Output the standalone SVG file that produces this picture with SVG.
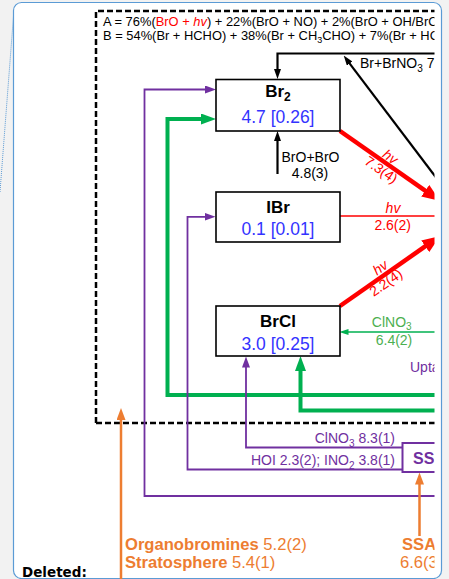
<svg xmlns="http://www.w3.org/2000/svg" width="449" height="579" viewBox="0 0 449 579">
<defs>
<style>
text{font-family:"Liberation Sans",Arial,sans-serif;}
.box{fill:#fff;stroke:#000;stroke-width:1.6;}
.ttl{font-weight:bold;font-size:17px;text-anchor:middle;fill:#000;}
.num{font-size:17.5px;text-anchor:middle;fill:#3333ff;}
.blk{fill:none;stroke:#000;stroke-width:2.2;}
.red{fill:none;stroke:#ff0000;}
.grn{fill:none;stroke:#00b050;}
.pur{fill:none;stroke:#7030a0;stroke-width:1.8;}
.org{fill:none;stroke:#ed7d31;stroke-width:2.5;}
.lbl{font-size:14px;}
.rl{font-size:14px;fill:#ff0000;text-anchor:middle;}
.pl{font-size:14px;fill:#7030a0;}
.ol{font-size:16.6px;fill:#ed7d31;}
</style>
<clipPath id="clip"><rect x="0" y="0" width="434.5" height="579"/></clipPath>
<marker id="mB" markerWidth="10" markerHeight="7" refX="5" refY="3.5" orient="auto" markerUnits="userSpaceOnUse"><path d="M0,0 L10,3.5 L0,7 z" fill="#000"/></marker>
<marker id="mP" markerWidth="11" markerHeight="8" refX="5" refY="4" orient="auto" markerUnits="userSpaceOnUse"><path d="M0,0 L11,4 L0,8 z" fill="#7030a0"/></marker>
<marker id="mG" markerWidth="15" markerHeight="11" refX="7" refY="5.5" orient="auto" markerUnits="userSpaceOnUse"><path d="M0,0 L15,5.5 L0,11 z" fill="#00b050"/></marker>
<marker id="mg" markerWidth="9" markerHeight="6" refX="4" refY="3" orient="auto" markerUnits="userSpaceOnUse"><path d="M0,0 L9,3 L0,6 z" fill="#00b050"/></marker>
<marker id="mR" markerWidth="18" markerHeight="14" refX="9" refY="7" orient="auto" markerUnits="userSpaceOnUse"><path d="M0,0 L18,7 L0,14 z" fill="#ff0000"/></marker>
<marker id="mO" markerWidth="12" markerHeight="9" refX="6" refY="4.5" orient="auto" markerUnits="userSpaceOnUse"><path d="M0,0 L12,4.5 L0,9 z" fill="#ed7d31"/></marker>
</defs>
<rect x="0" y="0" width="449" height="579" fill="#f2f2f2"/>
<path d="M0,192 L13.5,16" fill="none" stroke="#5b9bd5" stroke-width="1" stroke-dasharray="1,1"/>
<rect x="13.5" y="2.5" width="428" height="576" rx="8" fill="#fff" stroke="#5b9bd5" stroke-width="1.2"/>

<g clip-path="url(#clip)">
<g id="frame">
<path d="M96,423 V11 H500 M96,423 H500" fill="none" stroke="#000" stroke-width="2.5" stroke-dasharray="6,3"/>
<text x="103" y="26" style="font-size:12.9px">A = 76%(<tspan fill="#ff0000">BrO + </tspan><tspan fill="#ff0000" font-style="italic">hv</tspan>) + 22%(BrO + NO) + 2%(BrO + OH/BrO</text>
<text x="103" y="40" style="font-size:12.9px">B = 54%(Br + HCHO) + 38%(Br + CH<tspan font-size="9" dy="3">3</tspan><tspan dy="-3">CHO) + 7%(Br + HC</tspan></text>
</g>

<g id="connectors">
<path class="blk" d="M440,53.5 H277.5 V74" marker-end="url(#mB)"/>
<path class="blk" d="M277.5,174 V136" marker-end="url(#mB)"/>
<path class="blk" d="M440,182.7 L346.7,59.6" marker-end="url(#mB)"/>
<path class="red" stroke-width="4.5" d="M340,131 L432.6,195.8" marker-end="url(#mR)"/>
<path class="red" stroke-width="1.6" d="M340,216 H440"/>
<path class="red" stroke-width="4.5" d="M340,306 L432.6,241.2" marker-end="url(#mR)"/>
<path class="grn" stroke-width="1.6" d="M440,332 H344.5" marker-end="url(#mg)"/>
<path class="grn" stroke-width="4" d="M440,395 H167.5 V119 H208" marker-end="url(#mG)"/>
<path class="grn" stroke-width="4" d="M440,410.5 H300.5 V364" marker-end="url(#mG)"/>
<path class="pur" d="M440,496 H144.5 V89.5 H210" marker-end="url(#mP)"/>
<path class="pur" d="M402.5,469.5 H187.5 V216.8 H209.5" marker-end="url(#mP)"/>
<path class="pur" d="M402.5,447.5 H246 V362.5" marker-end="url(#mP)"/>
<path class="org" d="M121,579 V414" marker-end="url(#mO)"/>
<path class="org" d="M419.5,536 V478.5" marker-end="url(#mO)"/>
</g>

<g id="labels">
<text class="lbl" x="360" y="68">Br+BrNO<tspan font-size="10" dy="3.5">3</tspan><tspan dy="-3.5"> 7</tspan></text>
<text class="lbl" x="310.5" y="162" text-anchor="middle">BrO+BrO</text>
<text class="lbl" x="310" y="178" text-anchor="middle">4.8(3)</text>
<g transform="translate(340,131) rotate(35)">
<text class="rl" x="56" y="-3" font-style="italic">hv</text>
<text class="rl" x="56" y="13">7.3(4)</text>
</g>
<text class="rl" x="393" y="213" font-style="italic">hv</text>
<text class="rl" x="392.7" y="229.5">2.6(2)</text>
<g transform="translate(340,306) rotate(-35)">
<text class="rl" x="55" y="-3.5" font-style="italic">hv</text>
<text class="rl" x="51" y="12">2.2(4)</text>
</g>
<text class="lbl" x="391.7" y="326.7" text-anchor="middle" fill="#4caf50">ClNO<tspan font-size="10" dy="3.5">3</tspan></text>
<text class="lbl" x="394" y="345" text-anchor="middle" fill="#4caf50">6.4(2)</text>
<text class="pl" x="410" y="372">Upta</text>
<text class="pl" x="395" y="443" text-anchor="end">ClNO<tspan font-size="10" dy="3.5">3</tspan><tspan dy="-3.5"> 8.3(1)</tspan></text>
<text class="pl" x="395" y="465" text-anchor="end">HOI 2.3(2); INO<tspan font-size="10" dy="3.5">2</tspan><tspan dy="-3.5"> 3.8(1)</tspan></text>
<text class="ol" x="125" y="550"><tspan font-weight="bold">Organobromines</tspan> 5.2(2)</text>
<text class="ol" x="125" y="568"><tspan font-weight="bold">Stratosphere</tspan> 5.4(1)</text>
<text class="ol" x="402" y="550" font-weight="bold">SSA</text>
<text class="ol" x="400" y="568">6.6(3</text>
</g>

<g id="node-Br2">
<rect class="box" x="216" y="79.5" width="124" height="51.5"/>
<text class="ttl" x="278" y="97">Br<tspan font-size="12" dy="4">2</tspan></text>
<text class="num" x="278" y="123">4.7 [0.26]</text>
</g>
<g id="node-IBr">
<rect class="box" x="216" y="192" width="124" height="50"/>
<text class="ttl" x="278" y="213">IBr</text>
<text class="num" x="278" y="235">0.1 [0.01]</text>
</g>
<g id="node-BrCl">
<rect class="box" x="216" y="306" width="124" height="50"/>
<text class="ttl" x="278" y="327">BrCl</text>
<text class="num" x="278" y="350">3.0 [0.25]</text>
</g>
<g id="node-SSA">
<rect x="402.5" y="443" width="100" height="29" fill="#fff" stroke="#7030a0" stroke-width="2"/>
<text x="413" y="463.5" style="font-size:16px;font-weight:bold;fill:#7030a0">SS</text>
</g>
</g>

<text x="22" y="577" style="font-family:'DejaVu Sans',Verdana,sans-serif;font-size:13.5px;font-weight:bold;fill:#000">Deleted:</text>
</svg>
